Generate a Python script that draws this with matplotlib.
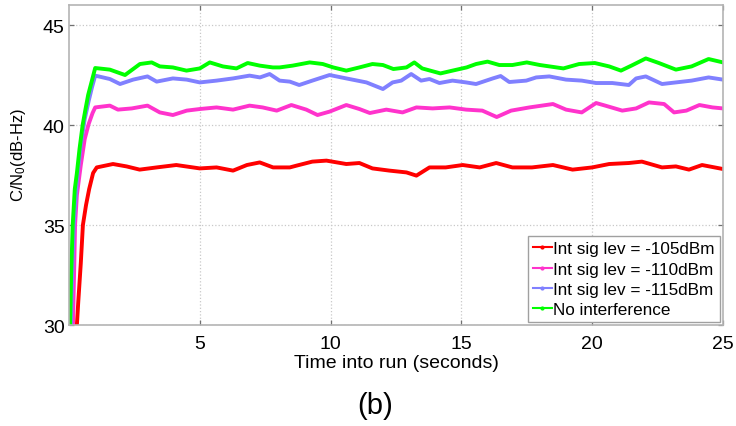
import matplotlib
matplotlib.use("Agg")
import matplotlib.pyplot as plt
from matplotlib.lines import Line2D

plt.rcParams['font.family'] = ['Liberation Sans', 'DejaVu Sans']
plt.rcParams['mathtext.fontset'] = 'custom'
plt.rcParams['mathtext.rm'] = 'Liberation Sans'
plt.rcParams['mathtext.it'] = 'Liberation Sans'

# series (time in s, C/N0 in dB-Hz)
t_105 = [0.3, 0.35, 0.45, 0.53, 0.65, 0.77, 0.92, 1.06, 1.68, 2.2, 2.7, 3.35, 4.1, 5.0, 5.64,
         6.27, 6.8, 7.29, 7.8, 8.44, 8.7, 9.3, 9.84, 10.6, 11.1, 11.6, 12.25, 12.9, 13.28, 13.78,
         14.4, 15.05, 15.7, 16.33, 16.95, 17.7, 18.5, 19.25, 20.0, 20.65, 21.4, 21.9, 22.67,
         23.2, 23.7, 24.2, 25.0]
cn_105 = [30.0, 31.1, 33.1, 35.0, 36.0, 36.8, 37.6, 37.88, 38.05, 37.93, 37.77, 37.88, 38.0, 37.83,
          37.88, 37.72, 38.0, 38.13, 37.88, 37.88, 37.97, 38.17, 38.22, 38.05, 38.1, 37.83, 37.72,
          37.63, 37.47, 37.88, 37.88, 38.0, 37.88, 38.1, 37.88, 37.88, 38.0, 37.77, 37.88, 38.05,
          38.1, 38.17, 37.88, 37.93, 37.77, 38.0, 37.8]

t_110 = [0.15, 0.2, 0.23, 0.3, 0.45, 0.6, 0.75, 0.9, 1.0, 1.56, 1.87, 2.4, 3.0, 3.47, 3.97, 4.5,
         5.0, 5.64, 6.27, 6.9, 7.4, 7.94, 8.5, 9.07, 9.5, 9.96, 10.6, 11.1, 11.5, 12.13, 12.75,
         13.28, 13.9, 14.55, 15.18, 15.8, 16.35, 16.9, 17.6, 18.5, 19.0, 19.6, 20.15, 20.5,
         21.15, 21.68, 22.17, 22.75, 23.13, 23.6, 24.1, 24.6, 25.0]
cn_110 = [30.0, 33.0, 35.0, 36.5, 38.0, 39.3, 40.05, 40.6, 40.88, 40.97, 40.77, 40.83, 40.97, 40.63,
          40.5, 40.72, 40.8, 40.88, 40.77, 40.97, 40.88, 40.72, 41.0, 40.77, 40.5, 40.67, 41.0,
          40.8, 40.6, 40.77, 40.63, 40.88, 40.83, 40.88, 40.77, 40.72, 40.4, 40.72, 40.88, 41.05,
          40.77, 40.63, 41.1, 40.97, 40.72, 40.83, 41.13, 41.05, 40.63, 40.72, 41.0, 40.88, 40.83]

t_115 = [0.07, 0.12, 0.18, 0.3, 0.45, 0.6, 0.75, 0.88, 1.0, 1.56, 1.95, 2.45, 3.0, 3.35, 3.97, 4.5,
         5.0, 5.64, 6.27, 6.9, 7.3, 7.67, 8.05, 8.44, 8.8, 9.3, 9.96, 10.6, 11.37, 12.0, 12.37,
         12.7, 13.08, 13.46, 13.78, 14.16, 14.66, 15.18, 15.56, 16.2, 16.5, 16.83, 17.48, 17.86,
         18.36, 19.0, 19.6, 20.15, 20.77, 21.4, 21.68, 22.05, 22.67, 23.2, 23.8, 24.45, 25.0]
cn_115 = [30.0, 32.5, 35.0, 37.2, 39.0, 40.3, 41.2, 41.9, 42.47, 42.3, 42.05, 42.27, 42.43, 42.17,
          42.33, 42.27, 42.13, 42.22, 42.33, 42.47, 42.38, 42.55, 42.22, 42.17, 42.0, 42.22, 42.5,
          42.33, 42.13, 41.8, 42.13, 42.22, 42.55, 42.22, 42.3, 42.1, 42.22, 42.13, 42.05, 42.33,
          42.45, 42.15, 42.22, 42.38, 42.43, 42.27, 42.22, 42.1, 42.1, 42.0, 42.33, 42.43, 42.05,
          42.13, 42.22, 42.38, 42.27]

t_none = [0.04, 0.08, 0.14, 0.22, 0.3, 0.4, 0.52, 0.63, 0.73, 0.87, 1.0, 1.56, 2.14, 2.71, 3.16,
          3.47, 3.97, 4.49, 5.0, 5.38, 5.88, 6.4, 6.83, 7.29, 7.79, 8.05, 8.55, 9.2, 9.7, 10.1,
          10.6, 11.1, 11.6, 12.0, 12.4, 12.9, 13.2, 13.5, 14.2, 14.66, 15.2, 15.56, 16.0, 16.45,
          16.95, 17.5, 18.0, 18.9, 19.5, 20.1, 20.65, 21.1, 21.5, 22.05, 22.55, 23.2, 23.8,
          24.45, 25.0]
cn_none = [30.0, 32.5, 35.0, 36.8, 37.6, 38.8, 40.0, 40.8, 41.5, 42.2, 42.85, 42.77, 42.5, 43.05,
           43.13, 42.93, 42.88, 42.72, 42.83, 43.13, 42.93, 42.83, 43.1, 42.97, 42.88, 42.88,
           42.97, 43.13, 43.05, 42.88, 42.72, 42.88, 43.05, 43.0, 42.8, 42.88, 43.13, 42.83, 42.58,
           42.72, 42.88, 43.05, 43.17, 43.0, 43.0, 43.13, 43.0, 42.83, 43.05, 43.1, 42.93, 42.72,
           42.97, 43.33, 43.1, 42.77, 42.93, 43.3, 43.13]

labels = ["Int sig lev = -105dBm", "Int sig lev = -110dBm", "Int sig lev = -115dBm", "No interference"]
colors = ["#ff0000", "#ff33cc", "#8080ff", "#00ff00"]

fig = plt.figure(figsize=(7.36, 4.27), dpi=100)
ax = fig.add_axes([0.0938, 0.2365, 0.8885, 0.7494])

series = [(t_105, cn_105), (t_110, cn_110), (t_115, cn_115), (t_none, cn_none)]
for (t, cn), c in zip(series, colors):
    ax.plot(t, cn, color=c, lw=2.8, solid_joinstyle='round')

ax.set_xlim(0, 25)
ax.set_ylim(30, 46)
ax.set_xticks([5, 10, 15, 20, 25])
ax.set_yticks([30, 35, 40, 45])
ax.grid(True, linestyle=':', color='#c8c8c8', linewidth=0.9)
ax.tick_params(direction='in', top=True, right=True, length=3.6, width=0.9,
               color='#707070', labelsize=14, labelcolor='black')
ax.tick_params(axis='x', pad=7)
ax.tick_params(axis='y', pad=3)
for s in ax.spines.values():
    s.set_color('#b4b4b4')
    s.set_linewidth(1.2)

ax.set_xlabel("Time into run (seconds)", fontsize=14)
ax.xaxis.set_label_coords(0.5, -0.09)
ax.set_ylabel("C/N$_0$(dB-Hz)", fontsize=12)
ax.yaxis.set_label_coords(-0.063, 0.534)

handles = [Line2D([], [], color=c, lw=1.5, marker='.', markersize=4) for c in colors]
leg = ax.legend(handles, labels, loc='lower right', fontsize=12.3, fancybox=False,
                framealpha=1, edgecolor='#a0a0a0', borderaxespad=0.18, borderpad=0.3,
                handlelength=1.1, handletextpad=0.1, labelspacing=0.3)
leg.get_frame().set_linewidth(1.0)

fig.text(375 / 736, 1 - 406 / 427, "(b)", ha='center', va='center', fontsize=21)

fig.savefig("out.png", dpi=100)
